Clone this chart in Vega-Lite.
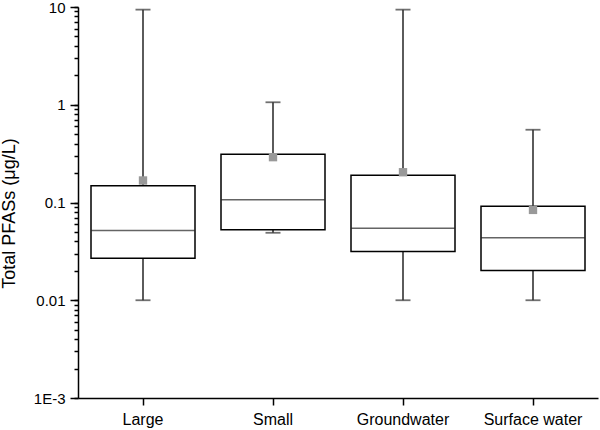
{
  "$schema": "https://vega.github.io/schema/vega-lite/v6.json",
  "width": 520,
  "height": 391,
  "autosize": {"type": "none"},
  "padding": {"left": 78, "top": 7, "right": 2, "bottom": 32},
  "background": "white",
  "config": {
    "view": {"stroke": null},
    "font": "Liberation Sans",
    "axis": {"grid": false, "ticks": true, "labelFont": "Liberation Sans", "titleFont": "Liberation Sans", "labelColor": "#000", "titleColor": "#000", "domainColor": "#000", "tickColor": "#000"}
  },
  "data": {
    "values": [
      {"cat": "Large", "lo": 0.01, "q1": 0.0269, "med": 0.0517, "q3": 0.148, "hi": 9.4, "mean": 0.168},
      {"cat": "Small", "lo": 0.049, "q1": 0.0526, "med": 0.1066, "q3": 0.312, "hi": 1.06, "mean": 0.291},
      {"cat": "Groundwater", "lo": 0.01, "q1": 0.0315, "med": 0.0546, "q3": 0.19, "hi": 9.4, "mean": 0.204},
      {"cat": "Surface water", "lo": 0.01, "q1": 0.0201, "med": 0.0435, "q3": 0.0917, "hi": 0.555, "mean": 0.084}
    ]
  },
  "encoding": {
    "x": {
      "field": "cat", "type": "nominal", "sort": null,
      "scale": {"paddingInner": 0.2, "paddingOuter": 0.1},
      "axis": {"title": null, "labelAngle": 0, "labelFontSize": 16, "ticks": true, "tickSize": 7, "tickWidth": 1.5, "domainWidth": 1.5, "labelPadding": 6}
    }
  },
  "layer": [
    {
      "mark": {"type": "rule", "color": "#4a4a4a", "strokeWidth": 1.8},
      "encoding": {
        "y": {
          "field": "lo", "type": "quantitative",
          "scale": {"type": "log", "domain": [0.001, 10], "nice": false},
          "axis": {
            "orient": "left",
            "values": [0.001, 0.01, 0.1, 1, 10],
            "labelExpr": "datum.value == 10 ? '10' : datum.value == 1 ? '1' : datum.value == 0.1 ? '0.1' : datum.value == 0.01 ? '0.01' : '1E-3'",
            "labelFontSize": 15, "labelPadding": 5, "ticks": true,
            "tickSize": 8, "tickWidth": 1.5, "domainWidth": 1.5,
            "title": "Total PFASs (μg/L)", "titleFontSize": 18, "titleFontWeight": "normal",
            "titleX": -60, "titleY": 206
          }
        },
        "y2": {"field": "hi"}
      }
    },
    {
      "mark": {"type": "rule", "opacity": 0},
      "encoding": {
        "y": {
          "field": "lo", "type": "quantitative",
          "axis": {
            "orient": "right", "offset": -520, "ticks": true,
            "values": [0.001, 0.002, 0.003, 0.004, 0.005, 0.006, 0.007, 0.008, 0.009, 0.01, 0.02, 0.03, 0.04, 0.05, 0.06, 0.07, 0.08, 0.09, 0.1, 0.2, 0.3, 0.4, 0.5, 0.6, 0.7, 0.8, 0.9, 1, 2, 3, 4, 5, 6, 7, 8, 9, 10],
            "labels": false, "domain": false, "tickSize": -4, "tickWidth": 1.5, "title": null
          }
        }
      }
    },
    {
      "mark": {"type": "bar", "fill": "white", "stroke": "#000", "strokeWidth": 1.5},
      "encoding": {
        "y": {"field": "q1", "type": "quantitative", "axis": null},
        "y2": {"field": "q3"}
      }
    },
    {
      "mark": {"type": "tick", "color": "#222", "size": 104, "thickness": 1.5},
      "encoding": {"y": {"field": "med", "type": "quantitative", "axis": null}}
    },
    {
      "mark": {"type": "tick", "color": "#333", "size": 15, "thickness": 1.8},
      "encoding": {"y": {"field": "hi", "type": "quantitative", "axis": null}}
    },
    {
      "mark": {"type": "tick", "color": "#333", "size": 15, "thickness": 1.8},
      "encoding": {"y": {"field": "lo", "type": "quantitative", "axis": null}}
    },
    {
      "mark": {"type": "point", "shape": "square", "filled": true, "color": "#999999", "size": 70, "opacity": 1},
      "encoding": {"y": {"field": "mean", "type": "quantitative", "axis": null}}
    }
  ],
  "resolve": {"axis": {"y": "independent"}}
}
